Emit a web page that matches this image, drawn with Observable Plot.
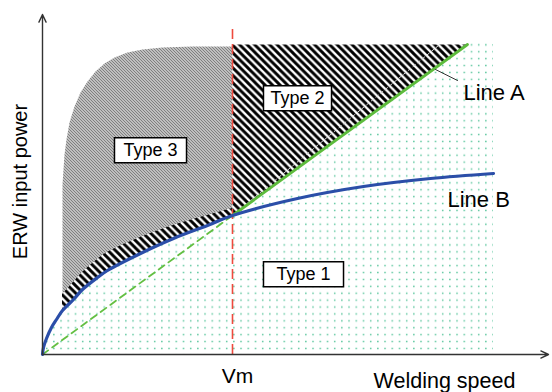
<!DOCTYPE html>
<html><head><meta charset="utf-8">
<script src="https://cdn.jsdelivr.net/npm/d3@7"></script>
<script src="https://cdn.jsdelivr.net/npm/@observablehq/plot@0.6"></script>
<style>body{margin:0;background:#fff}</style>
</head><body><div id="chart"></div>
<script>
// ---- data (welding speed, input power; arbitrary units) ----
const lineB = [[0,0],[1,7],[4,16],[9,27],[14,35],[20,44],[31,55],[40,65],[55,77],[65,84],[98,101],[131,116],[165,129],[190,139],[255,156],[321,168],[388,176],[451,181]];
const lineA = [[0,0],[190,139],[425,310]];
const vm = 190;
const vmTop = 325;
const regionTop = 310;
const type3Top = 308;
const type1RightEdge = 451;
const bandTop = [[20,60],[31,72],[40,82],[55,95],[65,102],[98,117],[131,129],[165,139],[190,146]];
const type3Corner = [[150,308],[120,307],[100,305],[85,302],[72,297],[62,291],[53,283],[45,273],[38,262],[32,248],[27,232],[24,215],[22,200],[21,185],[20,170]];
const faintLine = [[190,139],[396,309]];
const leaderA = [[393,285],[415,274]];
const typeLabels = [
  {text: "Type 3", x: 108, y: 204},
  {text: "Type 2", x: 255, y: 256},
  {text: "Type 1", x: 261, y: 80}
];
const lineLabels = [
  {text: "Line A", x: 421, y: 262},
  {text: "Line B", x: 405, y: 155}
];
const axisLabels = [
  {text: "Welding speed", x: 402, y: -27, rotate: 0, size: 21.5},
  {text: "Vm", x: 195, y: -22, rotate: 0, size: 21},
  {text: "ERW input power", x: -22, y: 173, rotate: -90, size: 20}
];

// ---- derived regions ----
const type1Edge = [...lineB.filter(d => d[0] <= vm), ...lineA.filter(d => d[0] > vm), [type1RightEdge, regionTop]];
const bandRows = bandTop.map(([x, y]) => ({x, lo: lineB.find(p => p[0] === x)[1], hi: y}));
const type3Outline = [...lineB.filter(d => d[0] >= 20 && d[0] <= vm), [vm, type3Top], ...type3Corner];
const type2Tri = [...lineA.filter(d => d[0] >= vm), [vm, regionTop]];

const X = d => d[0], Y = d => d[1];
const font = "'Liberation Sans', Arial, sans-serif";

const svg = Plot.plot({
  width: 552, height: 392,
  marginLeft: 42, marginRight: 4, marginTop: 14, marginBottom: 38,
  x: {domain: [0, 506], axis: null},
  y: {domain: [0, 340], axis: null},
  style: {fontFamily: font, background: "white", overflow: "visible"},
  marks: [
    Plot.areaY(type1Edge, {x: X, y: Y, fill: "url(#dots)", curve: "catmull-rom"}),
    Plot.line(type3Outline, {x: X, y: Y, fill: "url(#hatch3)", stroke: "none"}),
    Plot.areaY(bandRows, {x: "x", y1: "lo", y2: "hi", fill: "url(#hatch2)", curve: "catmull-rom"}),
    Plot.line(type2Tri, {x: X, y: Y, fill: "url(#hatch2)", stroke: "none"}),
    Plot.line(faintLine, {x: X, y: Y, stroke: "#d8d8d8", strokeWidth: 1, strokeDasharray: "3,3"}),
    Plot.ruleX([vm], {y1: 0, y2: vmTop, stroke: "#ee4a3e", strokeWidth: 1.6, strokeDasharray: "10,5"}),
    Plot.line(lineA.filter(d => d[0] <= vm), {x: X, y: Y, stroke: "#63bf42", strokeWidth: 1.8, strokeDasharray: "7,5"}),
    Plot.line(lineA.filter(d => d[0] >= vm), {x: X, y: Y, stroke: "#5dbb3c", strokeWidth: 2.8}),
    Plot.line(lineB, {x: X, y: Y, stroke: "#2b4ea8", strokeWidth: 3.2, curve: "catmull-rom"}),
    Plot.line(leaderA, {x: X, y: Y, stroke: "#333", strokeWidth: 1}),
    Plot.arrow([[0, 0, 506, 0], [0, 0, 0, 340]], {x1: d => d[0], y1: d => d[1], x2: d => d[2], y2: d => d[3], stroke: "#333", strokeWidth: 1.4, headLength: 9, headAngle: 50}),
    Plot.text(typeLabels, {x: "x", y: "y", text: "text", fontSize: 18, fill: "black", className: "type-label"}),
    Plot.text(lineLabels, {x: "x", y: "y", text: "text", fontSize: 22, fill: "black", textAnchor: "start"}),
    Plot.text(axisLabels, {x: "x", y: "y", text: "text", fontSize: "size", fill: "black", rotate: "rotate"})
  ]
});

// patterns
const defs = d3.select(svg).insert("defs", ":first-child");
const pd = defs.append("pattern").attr("id", "dots").attr("patternUnits", "userSpaceOnUse").attr("width", 7.2).attr("height", 6.9);
pd.append("rect").attr("x", 2.7).attr("y", 2.7).attr("width", 1.5).attr("height", 1.5).attr("fill", "#5ec79f");
const p3 = defs.append("pattern").attr("id", "hatch3").attr("patternUnits", "userSpaceOnUse").attr("width", 3).attr("height", 3);
p3.append("rect").attr("width", 3).attr("height", 3).attr("fill", "white");
p3.append("path").attr("d", "M-0.75,-0.75L3.75,3.75M2.25,-0.75L3.75,0.75M-0.75,2.25L0.75,3.75").attr("stroke", "black").attr("stroke-width", 1.0);
const p2 = defs.append("pattern").attr("id", "hatch2").attr("patternUnits", "userSpaceOnUse").attr("width", 7.5).attr("height", 7.5);
p2.append("rect").attr("width", 7.5).attr("height", 7.5).attr("fill", "white");
p2.append("path").attr("d", "M-1,-1L8.5,8.5M6.5,-1L8.5,1M-1,6.5L1,8.5").attr("stroke", "black").attr("stroke-width", 2.9);

document.getElementById("chart").appendChild(svg);

// boxes behind type labels
const padX = {"Type 3": 9, "Type 2": 7, "Type 1": 13};
d3.select(svg).selectAll(".type-label text").each(function() {
  const b = this.getBBox();
  const px = padX[this.textContent] ?? 9;
  d3.select(this.parentNode).insert("rect", () => this)
    .attr("transform", this.getAttribute("transform"))
    .attr("x", b.x - px).attr("y", b.y - 2.5)
    .attr("width", b.width + 2 * px).attr("height", b.height + 5)
    .attr("fill", "white").attr("stroke", "black").attr("stroke-width", 1.5);
});
</script></body></html>
